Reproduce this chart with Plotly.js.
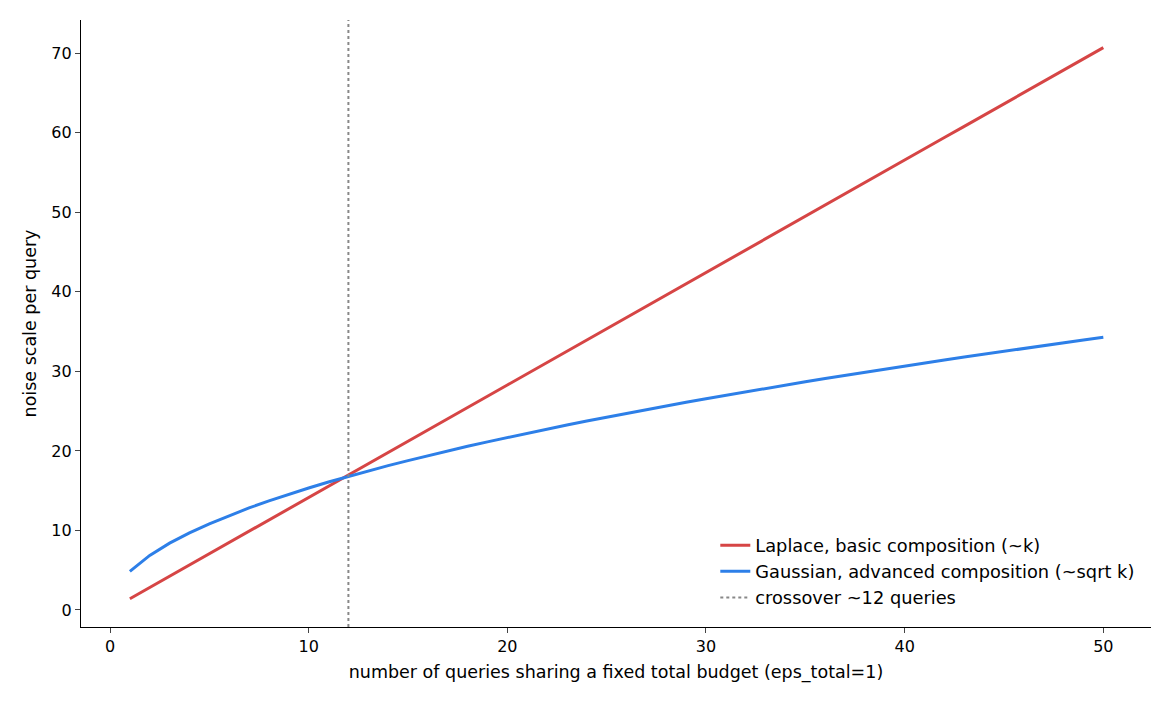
<!DOCTYPE html>
<html><head><meta charset="utf-8">
<script src="https://cdn.plot.ly/plotly-3.0.1.min.js"></script>
<style>body{margin:0;background:#fff}#c{width:1170px;height:702px}</style>
</head><body><div id="c"></div>
<script>
const queries = [1,2,3,4,5,6,7,8,9,10,11,12,13,14,15,16,17,18,19,20,21,22,23,24,25,26,27,28,29,30,31,32,33,34,35,36,37,38,39,40,41,42,43,44,45,46,47,48,49,50];
const laplaceNoise = [1.41,2.83,4.24,5.66,7.07,8.49,9.90,11.31,12.73,14.14,15.56,16.97,18.38,19.80,21.21,22.63,24.04,25.46,26.87,28.28,29.70,31.11,32.53,33.94,35.36,36.77,38.18,39.60,41.01,42.43,43.84,45.25,46.67,48.08,49.50,50.91,52.33,53.74,55.15,56.57,57.98,59.40,60.81,62.23,63.64,65.05,66.47,67.88,69.30,70.71];
const gaussianNoise = [4.85,6.86,8.40,9.70,10.84,11.88,12.83,13.72,14.55,15.34,16.09,16.80,17.49,18.15,18.78,19.40,20.00,20.58,21.14,21.69,22.23,22.75,23.26,23.76,24.25,24.73,25.20,25.66,26.12,26.56,27.00,27.44,27.86,28.28,28.69,29.10,29.50,29.90,30.29,30.67,31.06,31.43,31.80,32.17,32.53,32.89,33.25,33.60,33.95,34.29];
const crossoverX = 12;
const xTicks = [0,10,20,30,40,50];
const yTicks = [0,10,20,30,40,50,60,70];

const fam = 'DejaVu Sans, sans-serif';
const traces = [
  {x:queries, y:laplaceNoise, mode:'lines', name:'Laplace, basic composition (~k)', line:{color:'#d64545', width:3}},
  {x:queries, y:gaussianNoise, mode:'lines', name:'Gaussian, advanced composition (~sqrt k)', line:{color:'#2d7fe8', width:3}},
  {x:[crossoverX, crossoverX], y:[-2.14, 74.18], mode:'lines', name:'crossover ~12 queries', line:{color:'#888', width:2, dash:'dot'}}
];
const layout = {
  width:1170, height:702,
  margin:{l:81, r:19, t:20, b:75},
  paper_bgcolor:'#fff', plot_bgcolor:'#fff',
  font: {family:fam, size:16, color:'#000'},
  showlegend:true,
  legend:{x:0.99, y:0.018, xanchor:'right', yanchor:'bottom', bgcolor:'rgba(0,0,0,0)', font:{family:fam, size:17.8}, tracegroupgap:0},
  xaxis:{range:[-1.46, 52.4], tickvals:xTicks, ticks:'outside', ticklen:5, tickwidth:1.2, showgrid:false, zeroline:false,
    showline:true, linecolor:'#000', linewidth:1.2, tickfont:{family:fam, size:16},
    title:{text:'number of queries sharing a fixed total budget (eps_total=1)', font:{family:fam, size:17.5}, standoff:10}},
  yaxis:{range:[-2.14, 74.18], tickvals:yTicks, ticks:'outside', ticklen:5, tickwidth:1.2, showgrid:false, zeroline:false,
    showline:true, linecolor:'#000', linewidth:1.2, tickfont:{family:fam, size:16},
    title:{text:'noise scale per query', font:{family:fam, size:17.5}, standoff:10}}
};
Plotly.newPlot('c', traces, layout, {displayModeBar:false});
</script></body></html>
